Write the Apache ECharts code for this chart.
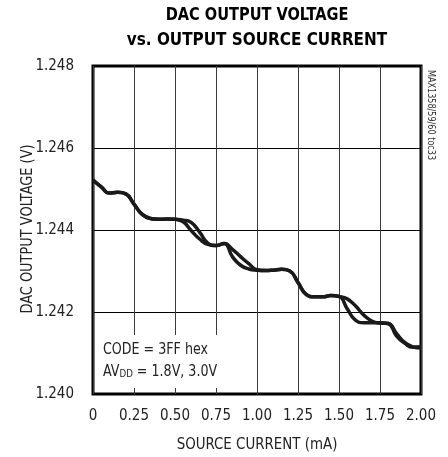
<!DOCTYPE html>
<html>
<head>
<meta charset="utf-8">
<script src="https://cdn.jsdelivr.net/npm/echarts@6/dist/echarts.min.js"></script>
<style>
html,body{margin:0;padding:0;background:#fff;}
#chart{width:448px;height:457px;}
</style>
</head>
<body>
<div id="chart"></div>
<script>
var titleLines = ['DAC OUTPUT VOLTAGE', 'vs. OUTPUT SOURCE CURRENT'];
var xAxisName = 'SOURCE CURRENT (mA)';
var yAxisName = 'DAC OUTPUT VOLTAGE (V)';
var sideNote = 'MAX1358/59/60 toc33';
var noteLines = ['CODE = 3FF hex', 'AV{sub|DD} = 1.8V, 3.0V'];
var xTickLabels = ['0', '0.25', '0.50', '0.75', '1.00', '1.25', '1.50', '1.75', '2.00'];
var yTickLabels = ['1.240', '1.242', '1.244', '1.246', '1.248'];

var current = [0.00,0.05,0.10,0.15,0.20,0.25,0.30,0.35,0.40,0.45,0.50,0.55,0.60,0.65,0.70,0.75,0.80,0.85,0.90,0.95,1.00,1.05,1.10,1.15,1.20,1.25,1.30,1.35,1.40,1.45,1.50,1.55,1.60,1.65,1.70,1.75,1.80,1.85,1.90,1.95,2.00];
var voltage18 = [1.24522,1.24505,1.24490,1.24492,1.24488,1.24463,1.24438,1.24428,1.24426,1.24427,1.24426,1.24420,1.24398,1.24378,1.24365,1.24362,1.24367,1.24335,1.24314,1.24305,1.24302,1.24301,1.24302,1.24304,1.24300,1.24272,1.24243,1.24237,1.24237,1.24240,1.24238,1.24208,1.24180,1.24174,1.24174,1.24174,1.24172,1.24142,1.24124,1.24114,1.24115];
var voltage30 = [1.24522,1.24505,1.24490,1.24492,1.24488,1.24463,1.24438,1.24428,1.24426,1.24427,1.24426,1.24424,1.24418,1.24395,1.24368,1.24362,1.24367,1.24353,1.24335,1.24318,1.24303,1.24301,1.24302,1.24304,1.24300,1.24272,1.24243,1.24237,1.24237,1.24240,1.24238,1.24232,1.24215,1.24193,1.24178,1.24173,1.24172,1.24148,1.24126,1.24115,1.24112];

function pairs(xs, ys){ return xs.map(function(x,i){ return [x, ys[i]]; }); }

var FONT = "'DejaVu Sans Condensed','Liberation Sans Narrow',sans-serif";
var chart = echarts.init(document.getElementById('chart'), null, {renderer:'canvas'});
var lineStyle = {color:'#1a1a1a', width:3.5};
chart.setOption({
  animation:false,
  backgroundColor:'#fff',
  grid:{left:93, right:27, top:66, bottom:63, show:true, borderColor:'#000', borderWidth:3, backgroundColor:'transparent'},
  xAxis:{
    type:'value', min:0, max:2, interval:0.25,
    axisLine:{show:false}, axisTick:{show:false},
    splitLine:{show:true, lineStyle:{color:'#3a3a3a', width:1}},
    axisLabel:{color:'#222', fontFamily:FONT, fontSize:15, margin:15,
      formatter:function(v){ return xTickLabels[Math.round(v/0.25)]; }}
  },
  yAxis:{
    type:'value', min:1.240, max:1.248, interval:0.002,
    axisLine:{show:false}, axisTick:{show:false},
    splitLine:{show:true, lineStyle:{color:'#000', width:1}},
    axisLabel:{color:'#222', fontFamily:FONT, fontSize:15, margin:19,
      formatter:function(v){ return yTickLabels[Math.round((v-1.240)/0.002)]; }}
  },
  graphic:[
    {type:'text', x:257, y:6, scaleX:0.9, style:{text:titleLines[0], font:"bold 18px "+FONT, fill:'#000', textAlign:'center'}, z:10},
    {type:'text', x:257, y:31, scaleX:0.94, style:{text:titleLines[1], font:"bold 18px "+FONT, fill:'#000', textAlign:'center'}, z:10},
    {type:'text', x:257, y:437, scaleX:0.93, style:{text:xAxisName, font:"16px "+FONT, fill:'#222', textAlign:'center'}, z:10},
    {type:'text', x:28, y:229, rotation:Math.PI/2, scaleX:0.9, style:{text:yAxisName, font:"16px "+FONT, fill:'#222', textAlign:'center', textVerticalAlign:'middle'}, z:10},
    {type:'text', x:431, y:115, rotation:-Math.PI/2, scaleX:0.9, style:{text:sideNote, font:"10px "+FONT, fill:'#333', textAlign:'center', textVerticalAlign:'middle'}, z:10},
    {type:'rect', shape:{x:95, y:335, width:128, height:53}, style:{fill:'#fff'}, z:5},
    {type:'text', x:103, y:342, scaleX:0.88, style:{text:noteLines[0], font:"16px "+FONT, fill:'#222'}, z:10},
    {type:'text', x:103, y:363, scaleX:0.88, style:{text:noteLines[1], font:"16px "+FONT, fill:'#222',
      rich:{sub:{fontSize:11, fontFamily:FONT, verticalAlign:'bottom', padding:[6,0,0,0], fill:'#222'}}}, z:10}
  ],
  series:[
    {type:'line', name:'AVDD = 1.8V', data:pairs(current, voltage18), smooth:0.5, showSymbol:false, lineStyle:lineStyle, z:3},
    {type:'line', name:'AVDD = 3.0V', data:pairs(current, voltage30), smooth:0.5, showSymbol:false, lineStyle:lineStyle, z:3}
  ]
});
</script>
</body>
</html>
